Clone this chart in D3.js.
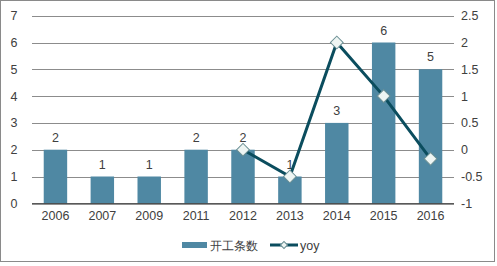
<!DOCTYPE html>
<html><head><meta charset="utf-8">
<script src="https://cdn.jsdelivr.net/npm/d3@7"></script>
<style>body{margin:0;background:#fff}svg{display:block}text{font-family:"Liberation Sans",Arial,sans-serif;fill:#404040}</style>
</head><body>
<script>
const categories = ["2006","2007","2009","2011","2012","2013","2014","2015","2016"];
const counts = [2,1,1,2,2,1,3,6,5];
const yoyCats = ["2012","2013","2014","2015","2016"];
const yoy = [0,-0.5,2,1,-0.17];
const leftTicks = [0,1,2,3,4,5,6,7];
const rightTicks = [-1,-0.5,0,0.5,1,1.5,2,2.5];
const seriesNames = ["开工条数","yoy"];

const W=497,H=266;
const svg=d3.select("body").append("svg").attr("width",W).attr("height",H);
svg.append("rect").attr("x",0.5).attr("y",0.5).attr("width",W-3).attr("height",H-5).attr("fill","#fff").attr("stroke","#8a8a8a");

const x0=32,x1=454,yTop=15.7,yBot=203.3;
const x=d3.scaleBand().domain(categories).range([x0,x1]).paddingInner(0.5).paddingOuter(0.25);
const yL=d3.scaleLinear().domain([0,7]).range([yBot,yTop]);
const yR=d3.scaleLinear().domain([-1,2.5]).range([yBot,yTop]);

const barC="#4f88a3", lineC="#0b4d5e";

// gridlines
svg.append("g").selectAll("line").data(leftTicks.slice(1)).join("line")
 .attr("x1",x0).attr("x2",x1).attr("y1",d=>Math.round(yL(d))+0.5).attr("y2",d=>Math.round(yL(d))+0.5)
 .attr("stroke","#8c8c8c").attr("stroke-width",1);

// left axis
const ga=svg.append("g").attr("transform",`translate(${x0},0)`)
 .call(d3.axisLeft(yL).tickValues(leftTicks).tickFormat(d3.format("d")).tickSize(0).tickPadding(14));
ga.select(".domain").remove();
ga.selectAll("text").attr("font-size",12.5).attr("fill","#404040").attr("text-anchor","middle").attr("dx","-4");

// right axis
const gr=svg.append("g").attr("transform",`translate(${x1},0)`)
 .call(d3.axisRight(yR).tickValues(rightTicks).tickFormat(d=>String(d)).tickSize(0).tickPadding(7));
gr.select(".domain").remove();
gr.selectAll("text").attr("font-size",12.5).attr("fill","#404040");

// bars
svg.append("g").selectAll("rect").data(categories).join("rect")
 .attr("x",(d)=>x(d)).attr("width",x.bandwidth())
 .attr("y",(d,i)=>yL(counts[i])).attr("height",(d,i)=>yBot-yL(counts[i]))
 .attr("fill",barC);

// bar labels
svg.append("g").selectAll("text").data(categories).join("text")
 .attr("x",d=>x(d)+x.bandwidth()/2).attr("y",(d,i)=>yL(counts[i])-8)
 .attr("text-anchor","middle").attr("font-size",12.5).text((d,i)=>counts[i]);

// baseline
svg.append("line").attr("x1",x0).attr("x2",x1).attr("y1",yBot+0.5).attr("y2",yBot+0.5).attr("stroke","#222").attr("stroke-width",1.2);

// x axis labels
const gx=svg.append("g").attr("transform",`translate(0,${yBot})`)
 .call(d3.axisBottom(x).tickSize(0).tickPadding(8));
gx.select(".domain").remove();
gx.selectAll("text").attr("font-size",12.5).attr("fill","#404040");

// line
const cx=d=>x(d)+x.bandwidth()/2;
svg.append("path").datum(yoyCats).attr("fill","none").attr("stroke",lineC).attr("stroke-width",3)
 .attr("d",d3.line().x(d=>cx(d)).y((d,i)=>yR(yoy[i])));
svg.append("g").selectAll("path").data(yoyCats).join("path")
 .attr("transform",(d,i)=>`translate(${cx(d)},${yR(yoy[i])}) rotate(45)`)
 .attr("d","M-4.5,-4.5H4.5V4.5H-4.5Z").attr("fill","#eef5f3").attr("stroke","#6b8f94").attr("stroke-width",1);

// legend
const lg=svg.append("g");
lg.append("rect").attr("x",182).attr("y",242).attr("width",25).attr("height",6).attr("fill",barC);
lg.append("text").attr("x",210).attr("y",249.5).attr("font-size",12).attr("font-family","'Noto Sans CJK SC',sans-serif").text(seriesNames[0]);
lg.append("line").attr("x1",270).attr("x2",298).attr("y1",245).attr("y2",245).attr("stroke",lineC).attr("stroke-width",3);
lg.append("path").attr("transform","translate(284,245) rotate(45)").attr("d","M-2.5,-2.5H2.5V2.5H-2.5Z").attr("fill","#eef5f3").attr("stroke","#6b8f94");
lg.append("text").attr("x",300).attr("y",249.5).attr("font-size",12.5).text(seriesNames[1]);
</script>
</body></html>
